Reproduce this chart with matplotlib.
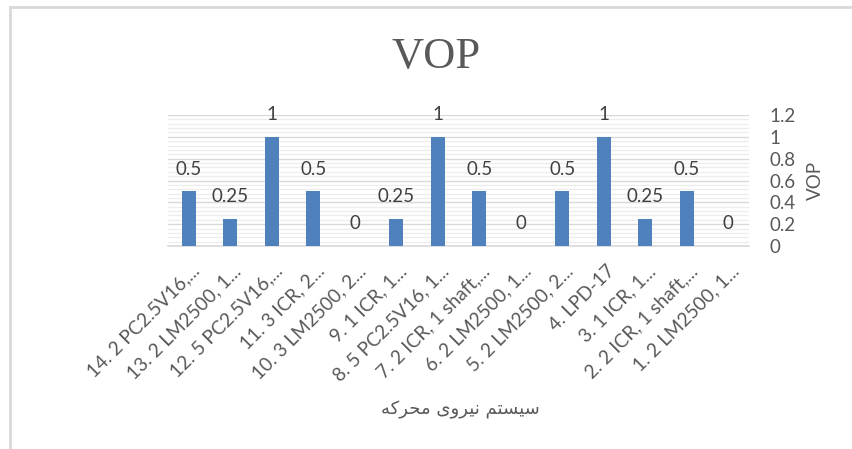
import matplotlib
matplotlib.use("Agg")
import matplotlib.pyplot as plt
from matplotlib.lines import Line2D
import matplotlib.transforms as mtransforms
import numpy as np

categories = ["14. 2 PC2.5V16,...", "13. 2 LM2500, 1...", "12. 5 PC2.5V16,...",
              "11. 3 ICR, 2...", "10. 3 LM2500, 2...", "9. 1 ICR, 1...",
              "8. 5 PC2.5V16, 1...", "7. 2 ICR, 1 shaft,...", "6. 2 LM2500, 1...",
              "5. 2 LM2500, 2...", "4. LPD-17", "3. 1 ICR, 1...",
              "2. 2 ICR, 1 shaft,...", "1. 2 LM2500, 1..."]
values = [0.5, 0.25, 1, 0.5, 0, 0.25, 1, 0.5, 0, 0.5, 1, 0.25, 0.5, 0]
value_labels = ["0.5", "0.25", "1", "0.5", "0", "0.25", "1", "0.5", "0", "0.5", "1", "0.25", "0.5", "0"]
y_ticks = [0, 0.2, 0.4, 0.6, 0.8, 1.0, 1.2]
y_tick_labels = ["0", "0.2", "0.4", "0.6", "0.8", "1", "1.2"]
title = "VOP"
y_title = "VOP"
x_title = "سیستم نیروی محرکه"

# minimal Arabic shaping for display (isolated, final, initial, medial)
_FORMS = {
    "س": ("\uFEB1", "\uFEB2", "\uFEB3", "\uFEB4"),
    "ی": ("\uFBFC", "\uFBFD", "\uFBFE", "\uFBFF"),
    "ت": ("\uFE95", "\uFE96", "\uFE97", "\uFE98"),
    "م": ("\uFEE1", "\uFEE2", "\uFEE3", "\uFEE4"),
    "ن": ("\uFEE5", "\uFEE6", "\uFEE7", "\uFEE8"),
    "ر": ("\uFEAD", "\uFEAE", None, None),
    "و": ("\uFEED", "\uFEEE", None, None),
    "ح": ("\uFEA1", "\uFEA2", "\uFEA3", "\uFEA4"),
    "ک": ("\uFB8E", "\uFB8F", "\uFB90", "\uFB91"),
    "ه": ("\uFEE9", "\uFEEA", "\uFEEB", "\uFEEC"),
}

def shape_rtl(s):
    out = []
    for i, ch in enumerate(s):
        if ch not in _FORMS:
            out.append(ch)
            continue
        f = _FORMS[ch]
        prev = s[i - 1] if i > 0 else None
        nxt = s[i + 1] if i + 1 < len(s) else None
        jp = prev in _FORMS and _FORMS[prev][2] is not None
        jn = f[2] is not None and nxt in _FORMS
        if jp and jn:
            out.append(f[3])
        elif jp:
            out.append(f[1])
        elif jn:
            out.append(f[2])
        else:
            out.append(f[0])
    return "".join(out)[::-1]

W, H = 852, 449
fig = plt.figure(figsize=(W / 100, H / 100), dpi=100)
fig.patch.set_facecolor("white")

left, right, bottom, top = 168, 749, 246, 115
ax = fig.add_axes([left / W, 1 - bottom / H, (right - left) / W, (bottom - top) / H])

txt = "#595959"
x = np.arange(len(categories))
ax.bar(x, values, width=0.34, color="#4F81BD", zorder=3)

ax.set_xlim(-0.5, len(categories) - 0.5)
ax.set_ylim(0, 1.2)
ax.yaxis.tick_right()
ax.yaxis.set_label_position("right")
ax.set_yticks(y_ticks)
ax.set_yticklabels(y_tick_labels, fontsize=13.5, color=txt, family="Lato")
ax.set_yticks(np.arange(0, 1.2001, 0.04), minor=True)
ax.tick_params(axis="y", which="both", length=0, pad=15)
ax.grid(axis="y", which="minor", color="#ededed", linewidth=0.9, zorder=0)
ax.grid(axis="y", which="major", color="#d9d9d9", linewidth=1.0, zorder=1)

ax.set_xticks(x)
ax.set_xticklabels(categories, fontsize=13.7, color=txt, family="Lato",
                   rotation=45, ha="right", va="center", rotation_mode="anchor")
ax.tick_params(axis="x", length=0, pad=16)
offset = mtransforms.ScaledTranslation(8 / 100, 0, fig.dpi_scale_trans)
for lbl in ax.get_xticklabels():
    lbl.set_transform(lbl.get_transform() + offset)

for s in ["top", "left", "right"]:
    ax.spines[s].set_visible(False)
ax.spines["bottom"].set_color("#d9d9d9")
ax.spines["bottom"].set_linewidth(1.2)

for xi, v, lab in zip(x, values, value_labels):
    ax.annotate(lab, (xi, v), xytext=(0, 16), textcoords="offset points",
                ha="center", va="center", fontsize=13.5, color="#404040", family="Lato")

ax.set_ylabel(y_title, fontsize=13.5, color=txt, family="Lato", labelpad=8, rotation=90)

fig.text(436 / W, 1 - 57 / H, title, ha="center", va="center", fontsize=32,
         color=txt, family="Liberation Serif")
fig.text(460 / W, 1 - 410 / H, shape_rtl(x_title), ha="center", va="center",
         fontsize=13, color=txt, family="DejaVu Sans")

# chart frame (left and top edges visible)
fig.add_artist(Line2D([10 / W, 10 / W], [0, 1 - 7 / H], transform=fig.transFigure,
                      color="#d9d9d9", linewidth=2))
fig.add_artist(Line2D([10 / W, 1], [1 - 7 / H, 1 - 7 / H], transform=fig.transFigure,
                      color="#d9d9d9", linewidth=2))

fig.savefig("out.png", dpi=100, facecolor="white")
